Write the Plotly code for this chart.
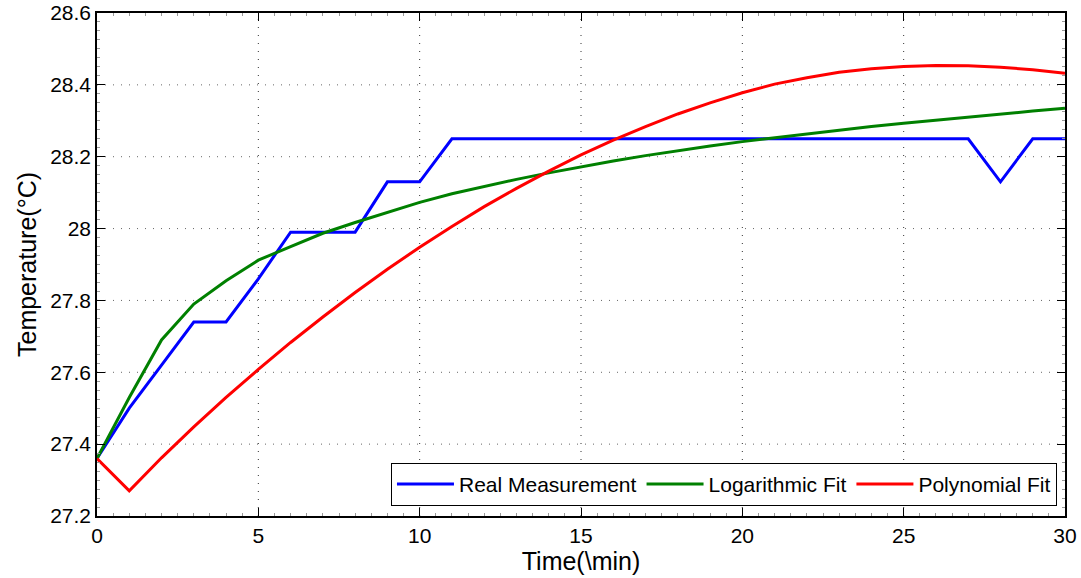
import plotly.graph_objects as go

time_min = list(range(0, 31))
real_measurement = [27.36, 27.50, 27.62, 27.74, 27.74, 27.86, 27.99, 27.99, 27.99, 28.13,
                    28.13, 28.25, 28.25, 28.25, 28.25, 28.25, 28.25, 28.25, 28.25, 28.25,
                    28.25, 28.25, 28.25, 28.25, 28.25, 28.25, 28.25, 28.25, 28.13, 28.25, 28.25]
log_fit = [27.36, 27.53, 27.69, 27.79, 27.855, 27.912, 27.95, 27.987, 28.017, 28.046,
           28.073, 28.097, 28.118, 28.137, 28.155, 28.172, 28.188, 28.203, 28.217, 28.23,
           28.242, 28.253, 28.264, 28.274, 28.284, 28.293, 28.302, 28.311, 28.319, 28.327, 28.335]
poly_fit = [27.36, 27.27, 27.362, 27.448, 27.53, 27.608, 27.683, 27.754, 27.822, 27.887,
            27.948, 28.006, 28.061, 28.112, 28.16, 28.205, 28.246, 28.284, 28.319, 28.35,
            28.378, 28.402, 28.42, 28.435, 28.445, 28.451, 28.454, 28.453, 28.449, 28.442, 28.432]

x_ticks = [0, 5, 10, 15, 20, 25, 30]
y_ticks = [27.2, 27.4, 27.6, 27.8, 28.0, 28.2, 28.4, 28.6]
y_tick_labels = ["27.2", "27.4", "27.6", "27.8", "28", "28.2", "28.4", "28.6"]

FONT = "Liberation Sans, Arial, sans-serif"

fig = go.Figure()
fig.add_trace(go.Scatter(x=time_min, y=real_measurement, mode="lines", name="Real Measurement",
                         line=dict(color="#0000FF", width=3)))
fig.add_trace(go.Scatter(x=time_min, y=log_fit, mode="lines", name="Logarithmic Fit",
                         line=dict(color="#008000", width=3)))
fig.add_trace(go.Scatter(x=time_min, y=poly_fit, mode="lines", name="Polynomial Fit",
                         line=dict(color="#FF0000", width=3)))

# dotted grid lines
for xv in x_ticks[1:-1]:
    fig.add_shape(type="line", xref="x", yref="paper", x0=xv, x1=xv, y0=0, y1=1,
                  line=dict(color="#333333", width=1, dash="1px,7px"), layer="below")
for yv in y_ticks[1:-1]:
    fig.add_shape(type="line", xref="paper", yref="y", x0=0, x1=1, y0=yv, y1=yv,
                  line=dict(color="#666666", width=1, dash="1px,7px"), layer="below")

axis_common = dict(showgrid=False, zeroline=False, showline=True, linecolor="black", linewidth=1.5,
                   mirror="ticks", ticks="inside", ticklen=8, tickcolor="black", tickwidth=1,
                   automargin=False,
                   tickfont=dict(family=FONT, size=21, color="black"))

fig.update_xaxes(range=[0, 30], tickvals=x_ticks, ticktext=[str(v) for v in x_ticks],
                 title=dict(text="Time(\\min)", font=dict(family=FONT, size=25, color="black"), standoff=0),
                 minor=dict(ticks="inside", ticklen=3, dtick=0.5, tickcolor="#999999"),
                 **axis_common)
fig.update_yaxes(range=[27.2, 28.6], tickvals=y_ticks, ticktext=y_tick_labels,
                 title=dict(text="Temperature(°C)", font=dict(family=FONT, size=25, color="black"), standoff=6),
                 minor=dict(ticks="inside", ticklen=3, dtick=0.025, tickcolor="#999999"),
                 **axis_common)

fig.update_layout(
    width=1081, height=578,
    margin=dict(l=97, r=16, t=13, b=62),
    paper_bgcolor="white", plot_bgcolor="white",
    font=dict(family=FONT, size=21, color="black"),
    legend=dict(orientation="h", x=0.9917, y=0.02, xanchor="right", yanchor="bottom",
                bgcolor="white", bordercolor="black", borderwidth=1,
                font=dict(family=FONT, size=21, color="black"), itemwidth=57),
    showlegend=True,
)

fig.write_html("out.html")
